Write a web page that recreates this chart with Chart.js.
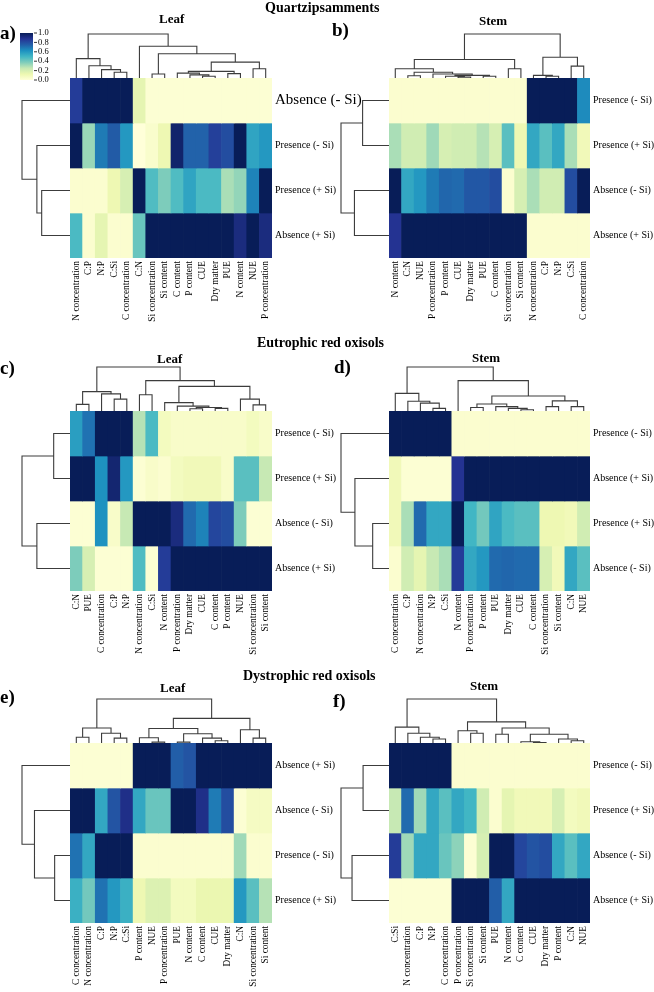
<!DOCTYPE html>
<html>
<head>
<meta charset="utf-8">
<script src="https://cdn.jsdelivr.net/npm/chart.js@4.4.1/dist/chart.umd.min.js"></script>
<style>
  body { margin: 0; background: #fff; }
  #wrap { position: relative; width: 654px; height: 992px; overflow: hidden;
          font-family: 'Liberation Serif', 'Times New Roman', serif; color: #000; }
  canvas { position: absolute; }
  .t { position: absolute; font-weight: bold; white-space: nowrap; line-height: 1; transform: translateY(-50%); }
  .sec { font-size: 14px; }
  .sub { font-size: 13px; }
  .lt { font-size: 19px; }
</style>
</head>
<body>
<div id="wrap">
  <canvas id="pa"></canvas>
  <canvas id="pb"></canvas>
  <canvas id="pc"></canvas>
  <canvas id="pd"></canvas>
  <canvas id="pe"></canvas>
  <canvas id="pf"></canvas>

  <div class="t sec" style="left:265px;top:8px">Quartzipsamments</div>
  <div class="t sec" style="left:257px;top:343px">Eutrophic red oxisols</div>
  <div class="t sec" style="left:243px;top:676px">Dystrophic red oxisols</div>

  <div class="t sub" style="left:159px;top:18px">Leaf</div>
  <div class="t sub" style="left:479px;top:20px">Stem</div>
  <div class="t sub" style="left:157px;top:358px">Leaf</div>
  <div class="t sub" style="left:472px;top:357px">Stem</div>
  <div class="t sub" style="left:160px;top:687px">Leaf</div>
  <div class="t sub" style="left:470px;top:685px">Stem</div>

  <div class="t lt" style="left:0px;top:32px">a)</div>
  <div class="t lt" style="left:332px;top:29px">b)</div>
  <div class="t lt" style="left:0px;top:367px">c)</div>
  <div class="t lt" style="left:334px;top:366px">d)</div>
  <div class="t lt" style="left:0px;top:696px">e)</div>
  <div class="t lt" style="left:333px;top:700px">f)</div>
</div>

<script>
// ---- data (scaled 0..1 per variable) ----
const aCols = ['N concentration', 'C:P', 'N:P', 'C:Si', 'C concentration', 'C:N', 'Si concentration', 'Si content',
  'C content', 'P content', 'CUE', 'Dry matter', 'PUE', 'N content', 'NUE', 'P concentration'];
const aRows = ['Absence (- Si)', 'Presence (- Si)', 'Presence (+ Si)', 'Absence (+ Si)'];
const aVals = [
  [0.85, 1, 1, 1, 1, 0.15, 0.02, 0.02, 0.02, 0.02, 0.02, 0.02, 0.02, 0.02, 0.02, 0.02],
  [1, 0.33, 0.68, 0.76, 0.6, 0.0, 0.04, 0.12, 0.96, 0.74, 0.74, 0.84, 0.8, 1, 0.56, 0.6],
  [0.03, 0.03, 0.03, 0.12, 0.2, 1, 0.47, 0.38, 0.47, 0.56, 0.48, 0.48, 0.3, 0.34, 0.66, 1],
  [0.48, 0.03, 0.15, 0.03, 0.03, 0.42, 1, 1, 1, 1, 1, 1, 1, 0.92, 1, 0.92]
];
const aColTree = [1, [0.44, 0, [0.28, 1, [0.19, 2, [0.13, 3, 4]]]],
  [0.72, 5, [0.55, [0.09, 6, 7], [0.36, [0.15, [0.11, 8, [0.07, 9, [0.04, 10, 11]]], [0.10, 12, 13]], [0.21, 14, 15]]]]];
const aRowTree = [1, 0, [0.69, 1, [0.59, 2, 3]]];

const bCols = ['N content', 'C:N', 'NUE', 'P concentration', 'P content', 'CUE', 'Dry matter', 'PUE', 'C content',
  'Si concentration', 'Si content', 'N concentration', 'C:P', 'N:P', 'C:Si', 'C concentration'];
const bRows = ['Presence (- Si)', 'Presence (+ Si)', 'Absence (- Si)', 'Absence (+ Si)'];
const bVals = [
  [0.03, 0.03, 0.03, 0.03, 0.03, 0.03, 0.03, 0.03, 0.03, 0.03, 0.03, 1, 1, 1, 1, 0.64],
  [0.3, 0.22, 0.22, 0.32, 0.2, 0.22, 0.22, 0.28, 0.2, 0.45, 0.12, 0.55, 0.45, 0.55, 0.3, 0.1],
  [1, 0.55, 0.6, 0.68, 0.73, 0.72, 0.77, 0.77, 0.8, 0.03, 0.2, 0.3, 0.22, 0.22, 0.8, 1],
  [0.88, 1, 1, 1, 1, 1, 1, 1, 1, 1, 1, 0.03, 0.03, 0.03, 0.03, 0.03]
];
const bColTree = [1,
  [0.42, [0.21, 0, [0.13, [0.05, 1, 2], [0.09, 3, [0.06, [0.04, 4, [0.02, 5, 6]], [0.04, 7, 8]]]]], [0.21, 9, 10]],
  [0.47, [0.06, 11, [0.04, 12, 13]], [0.27, 14, 15]]];
const bRowTree = [1, [0.55, 0, 1], [0.72, 2, 3]];

const cCols = ['C:N', 'PUE', 'C concentration', 'C:P', 'N:P', 'N concentration', 'C:Si', 'N content',
  'P concentration', 'Dry matter', 'CUE', 'C content', 'P content', 'NUE', 'Si concentration', 'Si content'];
const cRows = ['Presence (- Si)', 'Presence (+ Si)', 'Absence (- Si)', 'Absence (+ Si)'];
const cVals = [
  [0.58, 0.7, 1, 1, 1, 0.28, 0.48, 0.08, 0.05, 0.05, 0.05, 0.05, 0.05, 0.05, 0.08, 0.05],
  [1, 1, 0.62, 0.95, 0.6, 0.02, 0.05, 0.03, 0.08, 0.1, 0.1, 0.1, 0.05, 0.45, 0.45, 0.25],
  [0.02, 0.02, 0.62, 0.05, 0.25, 1, 1, 1, 0.92, 0.72, 0.66, 0.82, 0.8, 0.38, 0.02, 0.02],
  [0.38, 0.2, 0.02, 0.02, 0.02, 0.47, 0.02, 0.85, 1, 1, 1, 1, 1, 1, 1, 1]
];
const cColTree = [1, [0.44, [0.15, 0, 1], [0.39, 2, [0.27, 3, 4]]],
  [0.69, [0.37, 5, 6], [0.56, [0.19, 7, [0.11, 8, [0.08, [0.05, 9, 10], [0.06, 11, 12]]]], [0.27, 13, [0.14, 14, 15]]]]];
const cRowTree = [1, [0.34, 0, 1], [0.69, 2, 3]];

const dCols = ['C concentration', 'C:P', 'N concentration', 'N:P', 'C:Si', 'N content', 'P concentration',
  'P content', 'PUE', 'Dry matter', 'CUE', 'C content', 'Si concentration', 'Si content', 'C:N', 'NUE'];
const dRows = ['Presence (- Si)', 'Absence (+ Si)', 'Presence (+ Si)', 'Absence (- Si)'];
const dVals = [
  [1, 1, 1, 1, 1, 0.03, 0.03, 0.03, 0.03, 0.03, 0.03, 0.03, 0.03, 0.03, 0.03, 0.03],
  [0.1, 0.02, 0.02, 0.02, 0.02, 0.88, 1, 1, 1, 1, 1, 1, 1, 1, 1, 1],
  [0.1, 0.3, 0.72, 0.55, 0.55, 1, 0.5, 0.4, 0.56, 0.48, 0.45, 0.45, 0.12, 0.12, 0.1, 0.22],
  [0.03, 0.22, 0.15, 0.25, 0.3, 0.85, 0.55, 0.6, 0.72, 0.73, 0.72, 0.72, 0.2, 0.1, 0.55, 0.45]
];
const dColTree = [1, [0.40, 0, [0.22, 1, [0.18, 2, [0.06, 3, 4]]]],
  [0.69, 5, [0.34, [0.16, [0.08, 6, 7], [0.10, 8, [0.06, 9, [0.03, 10, 11]]]], [0.23, [0.10, 12, 13], [0.10, 14, 15]]]]];
const dRowTree = [1, 0, [0.71, 1, [0.34, 2, 3]]];

const eCols = ['C concentration', 'N concentration', 'C:P', 'N:P', 'C:Si', 'P content', 'NUE', 'P concentration',
  'PUE', 'N content', 'C content', 'CUE', 'Dry matter', 'C:N', 'Si concentration', 'Si content'];
const eRows = ['Absence (+ Si)', 'Absence (- Si)', 'Presence (- Si)', 'Presence (+ Si)'];
const eVals = [
  [0.02, 0.02, 0.02, 0.02, 0.02, 1, 1, 1, 0.75, 0.78, 1, 1, 1, 1, 1, 1],
  [1, 1, 0.55, 0.78, 0.9, 0.55, 0.42, 0.42, 1, 1, 0.9, 0.68, 0.8, 0.02, 0.07, 0.07],
  [0.7, 0.55, 1, 1, 1, 0.03, 0.03, 0.03, 0.03, 0.03, 0.03, 0.03, 0.03, 0.32, 0.03, 0.03],
  [0.52, 0.4, 0.7, 0.6, 0.52, 0.12, 0.18, 0.18, 0.08, 0.08, 0.13, 0.13, 0.13, 0.6, 0.45, 0.28]
];
const eColTree = [1, [0.34, [0.13, 0, 1], [0.22, 2, [0.11, 3, 4]]],
  [0.56, [0.33, [0.12, 5, [0.02, 6, 7]], [0.21, [0.02, 8, 9], [0.11, 10, [0.05, 11, 12]]]], [0.30, 13, [0.11, 14, 15]]]];
const eRowTree = [1, 0, [0.74, 1, [0.32, 2, 3]]];

const fCols = ['C:Si', 'N concentration', 'C:P', 'N:P', 'C concentration', 'P concentration', 'Si concentration',
  'Si content', 'PUE', 'N content', 'C content', 'CUE', 'Dry matter', 'P content', 'C:N', 'NUE'];
const fRows = ['Presence (- Si)', 'Presence (+ Si)', 'Absence (- Si)', 'Absence (+ Si)'];
const fVals = [
  [1, 1, 1, 1, 1, 0.03, 0.03, 0.03, 0.03, 0.03, 0.03, 0.03, 0.03, 0.03, 0.03, 0.03],
  [0.25, 0.72, 0.32, 0.55, 0.45, 0.55, 0.5, 0.22, 0.03, 0.15, 0.1, 0.1, 0.1, 0.2, 0.08, 0.1],
  [0.85, 0.32, 0.55, 0.55, 0.42, 0.35, 0.02, 0.2, 1, 1, 0.82, 0.78, 0.8, 0.55, 0.45, 0.55],
  [0.02, 0.02, 0.02, 0.02, 0.02, 1, 1, 1, 0.75, 0.55, 1, 1, 1, 1, 1, 1]
];
const fColTree = [1, [0.36, 0, [0.22, 1, [0.13, 2, [0.09, 3, 4]]]],
  [0.48, [0.28, 5, [0.22, 6, 7]], [0.34, [0.20, 8, 9], [0.20, [0.03, 10, [0.01, 11, 12]], [0.09, 13, [0.05, 14, 15]]]]]];
const fRowTree = [1, [0.54, 0, 1], [0.77, 2, 3]];

const cbTicks = [0, 0.2, 0.4, 0.6, 0.8, 1.0];

// ---- colours ----
const FAM = "'Liberation Serif', 'Times New Roman', serif";
const ylgnbu = ['#ffffd9', '#edf8b1', '#c7e9b4', '#7fcdbb', '#41b6c4', '#1d91c0', '#225ea8', '#253494', '#081d58'];
const stopsRgb = ylgnbu.map(h => [1, 3, 5].map(i => parseInt(h.substr(i, 2), 16)));

function colorFor(v) {
  const t = Math.max(0, Math.min(1, v)) * (stopsRgb.length - 1);
  const i = Math.min(Math.floor(t), stopsRgb.length - 2), f = t - i;
  const c = stopsRgb[i].map((a, k) => Math.round(a + (stopsRgb[i + 1][k] - a) * f));
  return `rgb(${c.join(',')})`;
}

const COL_H = 44;  // column dendrogram height
const ROW_W = 48;  // row dendrogram width

// dendrograms + colour key drawn against the chart scales
function treePlugin(colTree, rowTree, colorbar) {
  return {
    id: 'trees',
    afterDraw(chart) {
      const { ctx, chartArea: a, scales: { x, y } } = chart;
      ctx.save();
      ctx.strokeStyle = '#3c3c3c';
      ctx.lineWidth = 1.1;
      ctx.beginPath();
      const colNode = n => {
        if (typeof n === 'number') return [x.getPixelForValue(n), a.top];
        const [h, l, r] = n, L = colNode(l), R = colNode(r), q = a.top - h * COL_H;
        ctx.moveTo(L[0], L[1]); ctx.lineTo(L[0], q); ctx.lineTo(R[0], q); ctx.lineTo(R[0], R[1]);
        return [(L[0] + R[0]) / 2, q];
      };
      const rowNode = n => {
        if (typeof n === 'number') return [a.left, y.getPixelForValue(n + 0.5)];
        const [h, l, r] = n, L = rowNode(l), R = rowNode(r), p = a.left - h * ROW_W;
        ctx.moveTo(L[0], L[1]); ctx.lineTo(p, L[1]); ctx.lineTo(p, R[1]); ctx.lineTo(R[0], R[1]);
        return [p, (L[1] + R[1]) / 2];
      };
      colNode(colTree);
      rowNode(rowTree);
      ctx.stroke();

      if (colorbar) {
        const bx = 20, by = 33, bw = 13, bh = 47;
        const g = ctx.createLinearGradient(0, by + bh, 0, by);
        ylgnbu.forEach((c, i) => g.addColorStop(i / (ylgnbu.length - 1), c));
        ctx.fillStyle = g;
        ctx.fillRect(bx, by, bw, bh);
        ctx.fillStyle = '#000';
        ctx.strokeStyle = '#000';
        ctx.lineWidth = 0.8;
        ctx.font = `8.5px ${FAM}`;
        ctx.textBaseline = 'middle';
        ctx.textAlign = 'left';
        cbTicks.forEach(v => {
          const ty = by + bh - v * bh;
          ctx.beginPath();
          ctx.moveTo(bx + bw + 1, ty); ctx.lineTo(bx + bw + 4, ty);
          ctx.stroke();
          ctx.fillText(v.toFixed(1), bx + bw + 5, ty);
        });
      }
      ctx.restore();
    }
  };
}

function drawPanel(id, box, area, cols, rows, vals, colTree, rowTree, extra = {}) {
  const cv = document.getElementById(id);
  cv.width = box.w; cv.height = box.h;
  cv.style.left = box.x + 'px';
  cv.style.top = box.y + 'px';
  const yW = box.w - area.r;  // row labels run to the canvas edge
  new Chart(cv, {
    type: 'bar',
    data: {
      labels: cols,
      datasets: rows.map((r, i) => ({
        label: r,
        data: cols.map(() => [i, i + 1]),
        backgroundColor: vals[i].map(colorFor),
        borderWidth: 0,
        barPercentage: 1,
        categoryPercentage: 1,
        grouped: false
      }))
    },
    options: {
      responsive: false,
      animation: false,
      layout: { padding: { left: area.l, top: area.t, right: 0, bottom: 0 } },
      plugins: { legend: { display: false }, tooltip: { enabled: false } },
      scales: {
        x: {
          grid: { display: false, drawTicks: false },
          border: { display: false },
          ticks: { autoSkip: false, minRotation: 90, maxRotation: 90, padding: 3, color: '#000',
                   font: { family: FAM, size: 9.3 } },
          afterFit: s => { s.height = box.h - area.b; }
        },
        y: {
          position: 'right', min: 0, max: rows.length, reverse: true,
          grid: { display: false, drawTicks: false },
          border: { display: false },
          afterBuildTicks: s => { s.ticks = rows.map((_, i) => ({ value: i + 0.5 })); },
          ticks: {
            padding: 3, color: '#000',
            callback: v => rows[Math.floor(v)],
            font: c => ({ family: FAM, size: c.index === extra.bigRow ? 15 : 10 })
          },
          afterFit: s => { s.width = yW; }
        }
      }
    },
    plugins: [treePlugin(colTree, rowTree, extra.colorbar)]
  });
}

drawPanel('pa', { x: 0, y: 0, w: 370, h: 327 }, { l: 70, t: 78, r: 272, b: 258 },
  aCols, aRows, aVals, aColTree, aRowTree, { bigRow: 0, colorbar: true });
drawPanel('pb', { x: 327, y: 0, w: 327, h: 327 }, { l: 62, t: 78, r: 263, b: 258 },
  bCols, bRows, bVals, bColTree, bRowTree);
drawPanel('pc', { x: 0, y: 327, w: 370, h: 328 }, { l: 70, t: 84, r: 272, b: 264 },
  cCols, cRows, cVals, cColTree, cRowTree);
drawPanel('pd', { x: 327, y: 327, w: 327, h: 328 }, { l: 62, t: 84, r: 263, b: 264 },
  dCols, dRows, dVals, dColTree, dRowTree);
drawPanel('pe', { x: 0, y: 655, w: 370, h: 337 }, { l: 70, t: 88, r: 272, b: 268 },
  eCols, eRows, eVals, eColTree, eRowTree);
drawPanel('pf', { x: 327, y: 655, w: 327, h: 337 }, { l: 62, t: 88, r: 263, b: 268 },
  fCols, fRows, fVals, fColTree, fRowTree);
</script>
</body>
</html>
